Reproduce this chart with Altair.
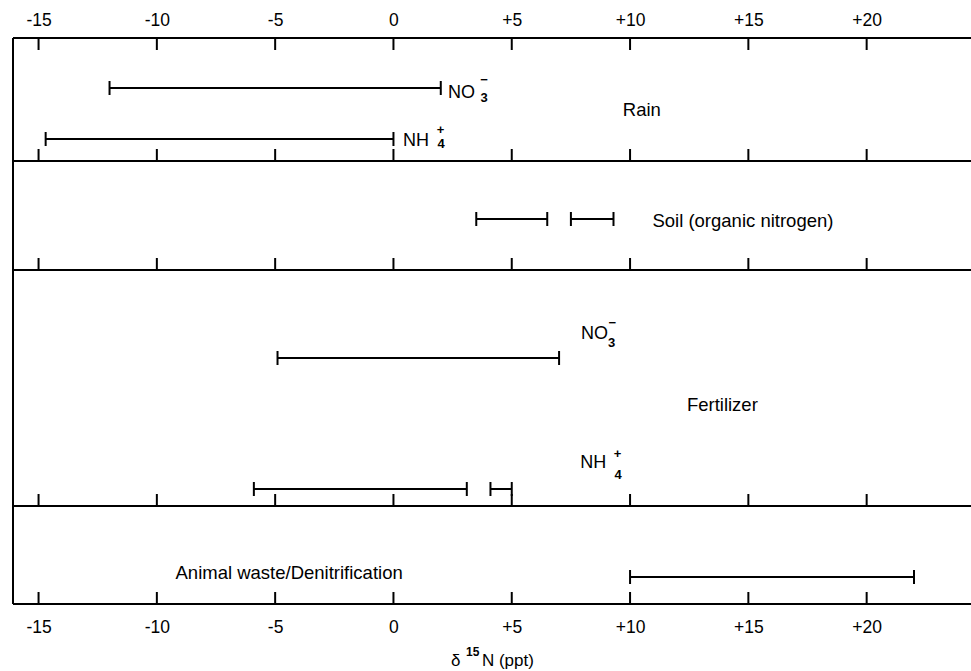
import altair as alt
import pandas as pd

# ---------------- data ----------------
X_MIN, X_MAX = -16.08, 24.41
tick_values = [-15, -10, -5, 0, 5, 10, 15, 20]

# panel boundaries (vertical layout, in plot pixels from top)
panel_bounds = [0, 123, 232, 468, 566]
panel_names = ["Rain", "Soil (organic nitrogen)", "Fertilizer", "Animal waste/Denitrification"]

bar_group = ["Rain NO3", "Rain NH4", "Soil", "Soil", "Fertilizer NO3", "Fertilizer NH4", "Fertilizer NH4", "Animal waste"]
bar_low = [-12.0, -14.7, 3.5, 7.5, -4.9, -5.9, 4.1, 10.0]
bar_high = [2.0, 0.0, 6.5, 9.3, 7.0, 3.1, 5.0, 22.0]
bar_lane = [50, 101, 181, 181, 320, 451, 451, 539]

# panel labels
panel_label_x = [10.5, 14.77, 13.9, -4.41]
panel_label_y = [72, 183, 367, 535]

# species labels (base text)
species_text = ["NO", "NH", "NO", "NH"]
species_x = [2.31, 0.40, 7.93, 7.89]
species_y = [55, 103, 296, 425]
# sub / superscripts
script_text = ["3", "\u2212", "4", "+", "3", "\u2212", "4", "+"]
script_x = [3.83, 3.83, 2.01, 1.99, 9.22, 9.25, 9.49, 9.47]
script_y = [60, 42, 106, 92, 305, 285, 437, 416]

# axis title pieces: "δ ¹⁵N (ppt)"
title_text = ["\u03b4", "N (ppt)"]
title_x = [2.43, 3.74]
title_y = [623, 623]
title_sup_text = ["15"]
title_sup_x = [3.07]
title_sup_y = [614]

FONT = "Liberation Sans"
W, H = 958, 566

# ---------------- tables ----------------
bars = pd.DataFrame({"group": bar_group, "lo": bar_low, "hi": bar_high, "y": bar_lane})
caps = pd.DataFrame({
    "x": bar_low + bar_high,
    "y1": [v - 7 for v in bar_lane] * 2,
    "y2": [v + 7 for v in bar_lane] * 2,
})
hlines = pd.DataFrame({"x1": [X_MIN] * len(panel_bounds), "x2": [X_MAX] * len(panel_bounds), "y": panel_bounds})
vline = pd.DataFrame({"x": [X_MIN], "y1": [panel_bounds[0]], "y2": [panel_bounds[-1]]})
tick_rows = []
for i, b in enumerate(panel_bounds):
    for t in tick_values:
        if i == 0:
            tick_rows.append({"x": t, "y1": b, "y2": b + 12})
        else:
            tick_rows.append({"x": t, "y1": b - 12, "y2": b})
ticks = pd.DataFrame(tick_rows)
plabels = pd.DataFrame({"text": panel_names, "x": panel_label_x, "y": panel_label_y})
species = pd.DataFrame({"text": species_text, "x": species_x, "y": species_y})
scripts = pd.DataFrame({"text": script_text, "x": script_x, "y": script_y})
tparts = pd.DataFrame({"text": title_text, "x": title_x, "y": title_y})
tsup = pd.DataFrame({"text": title_sup_text, "x": title_sup_x, "y": title_sup_y})

xscale = alt.Scale(domain=[X_MIN, X_MAX], nice=False, zero=False)
yscale = alt.Scale(domain=[0, H], nice=False, zero=False, reverse=True)

label_expr = "datum.value > 0 ? '+' + datum.value : '' + datum.value"


def axis(orient, pad):
    return alt.Axis(orient=orient, values=tick_values, labelExpr=label_expr, domain=False,
                    ticks=False, tickSize=0, grid=False, title=None, labelFont=FONT,
                    labelFontSize=17.5, labelColor="black", labelPadding=pad,
                    labelFlush=False, labelOverlap=False)


frame_h = alt.Chart(hlines).mark_rule(color="black", strokeWidth=2).encode(
    x=alt.X("x1:Q", scale=xscale, axis=axis("bottom", 14)),
    x2="x2:Q",
    y=alt.Y("y:Q", scale=yscale, axis=None),
)
frame_v = alt.Chart(vline).mark_rule(color="black", strokeWidth=2).encode(
    x=alt.X("x:Q", scale=xscale, axis=axis("top", 9)),
    y=alt.Y("y1:Q", scale=yscale, axis=None),
    y2="y2:Q",
)
tick_layer = alt.Chart(ticks).mark_rule(color="black", strokeWidth=2).encode(
    x=alt.X("x:Q", scale=xscale, axis=None),
    y=alt.Y("y1:Q", scale=yscale, axis=None),
    y2="y2:Q",
)
bar_layer = alt.Chart(bars).mark_rule(color="black", strokeWidth=2).encode(
    x=alt.X("lo:Q", scale=xscale, axis=None),
    x2="hi:Q",
    y=alt.Y("y:Q", scale=yscale, axis=None),
)
cap_layer = alt.Chart(caps).mark_rule(color="black", strokeWidth=2).encode(
    x=alt.X("x:Q", scale=xscale, axis=None),
    y=alt.Y("y1:Q", scale=yscale, axis=None),
    y2="y2:Q",
)
plabel_layer = alt.Chart(plabels).mark_text(font=FONT, fontSize=18.5, color="black", align="center", baseline="middle").encode(
    x=alt.X("x:Q", scale=xscale, axis=None),
    y=alt.Y("y:Q", scale=yscale, axis=None),
    text="text:N",
)
species_layer = alt.Chart(species).mark_text(font=FONT, fontSize=18, color="black", align="left", baseline="middle").encode(
    x=alt.X("x:Q", scale=xscale, axis=None),
    y=alt.Y("y:Q", scale=yscale, axis=None),
    text="text:N",
)
script_layer = alt.Chart(scripts).mark_text(font=FONT, fontSize=13, fontWeight="bold", color="black", align="center", baseline="middle").encode(
    x=alt.X("x:Q", scale=xscale, axis=None),
    y=alt.Y("y:Q", scale=yscale, axis=None),
    text="text:N",
)
title_layer = alt.Chart(tparts).mark_text(font=FONT, fontSize=17, color="black", align="left", baseline="middle").encode(
    x=alt.X("x:Q", scale=xscale, axis=None),
    y=alt.Y("y:Q", scale=yscale, axis=None),
    text="text:N",
)
tsup_layer = alt.Chart(tsup).mark_text(font=FONT, fontSize=12, fontWeight="bold", color="black", align="left", baseline="middle").encode(
    x=alt.X("x:Q", scale=xscale, axis=None),
    y=alt.Y("y:Q", scale=yscale, axis=None),
    text="text:N",
)

chart = alt.layer(
    frame_h, frame_v, tick_layer, bar_layer, cap_layer,
    plabel_layer, species_layer, script_layer, title_layer, tsup_layer,
).resolve_axis(x="independent").properties(
    width=W, height=H,
    autosize=alt.AutoSizeParams(type="none"),
    padding={"left": 13, "top": 38, "right": 0, "bottom": 67},
).configure_view(stroke=None).configure(background="white")

chart.save("out.html", embed_options={"renderer": "svg", "actions": False})
